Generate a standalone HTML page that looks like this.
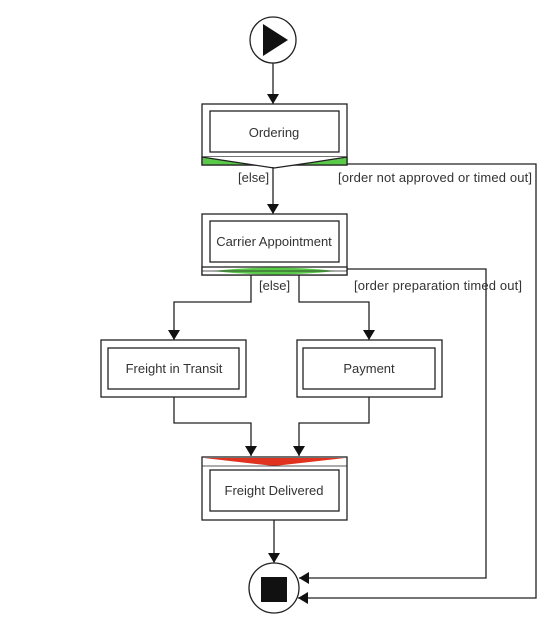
<!DOCTYPE html>
<html><head><style>
html,body{margin:0;padding:0;background:#fff;}
svg{display:block;font-family:"Liberation Sans",sans-serif;}
</style></head><body>
<svg width="556" height="620" viewBox="0 0 556 620">
<defs>
<marker id="a" markerWidth="10" markerHeight="12" refX="10" refY="6" orient="auto" markerUnits="userSpaceOnUse">
<path d="M0,0 L10,6 L0,12 z" fill="#111"/></marker>
</defs>
<g fill="none" stroke="#222" stroke-width="1.3">
<circle cx="273" cy="40" r="23" fill="#fff"/>
<path d="M263,24 L288,40 L263,56 z" fill="#111" stroke="none"/>
<line x1="273" y1="63" x2="273" y2="104" marker-end="url(#a)"/>
<rect x="202" y="104" width="145" height="61" fill="#fff"/>
<rect x="210" y="111" width="129" height="41"/>
<path d="M202,157 L347,157 L347,165 L202,165 z" fill="#5ac94a" stroke="#222"/>
<path d="M202,157 Q240,163 274,168 Q310,163 347,157" fill="#fff" stroke="#222"/>
<line x1="273" y1="167" x2="273" y2="214" marker-end="url(#a)"/>
<path d="M347,164 L536,164 L536,598 L298,598" marker-end="url(#a)"/>
<rect x="202" y="214" width="145" height="61" fill="#fff"/>
<rect x="210" y="221" width="129" height="41"/>
<rect x="202" y="267" width="145" height="8" fill="#fff"/>
<path d="M212,271 Q274,264 336,271 Q274,278 212,271 z" fill="#5ac94a" stroke="none"/>
<line x1="202" y1="271" x2="347" y2="271" stroke-width="0.8"/>
<path d="M347,269 L486,269 L486,578 L299,578" marker-end="url(#a)"/>
<path d="M251,275 L251,302 L174,302 L174,340" marker-end="url(#a)"/>
<path d="M299,275 L299,302 L369,302 L369,340" marker-end="url(#a)"/>
<rect x="101" y="340" width="145" height="57" fill="#fff"/>
<rect x="108" y="348" width="131" height="41"/>
<rect x="297" y="340" width="145" height="57" fill="#fff"/>
<rect x="303" y="348" width="132" height="41"/>
<path d="M174,397 L174,423 L251,423 L251,456" marker-end="url(#a)"/>
<path d="M369,397 L369,423 L299,423 L299,456" marker-end="url(#a)"/>
<rect x="202" y="457" width="145" height="63" fill="#fff"/>
<path d="M204,458 L345,458 Q310,462 274,466 Q238,462 204,458 z" fill="#e0331f" stroke="none"/>
<line x1="202" y1="466" x2="347" y2="466" stroke-width="0.8"/>
<rect x="210" y="470" width="129" height="41"/>
<line x1="274" y1="520" x2="274" y2="563" marker-end="url(#a)"/>
<circle cx="274" cy="588" r="25" fill="#fff"/>
<rect x="261" y="577" width="26" height="25" fill="#111" stroke="none"/>
</g>
<g fill="#333" font-size="13" text-anchor="middle">
<text x="274" y="137">Ordering</text>
<text x="274" y="246">Carrier Appointment</text>
<text x="174" y="373">Freight in Transit</text>
<text x="369" y="373">Payment</text>
<text x="274" y="495">Freight Delivered</text>
</g>
<g fill="#333" font-size="13">
<text x="238" y="182">[else]</text>
<text x="338" y="182" textLength="194">[order not approved or timed out]</text>
<text x="259" y="290">[else]</text>
<text x="354" y="290" textLength="168">[order preparation timed out]</text>
</g>
</svg>
</body></html>
